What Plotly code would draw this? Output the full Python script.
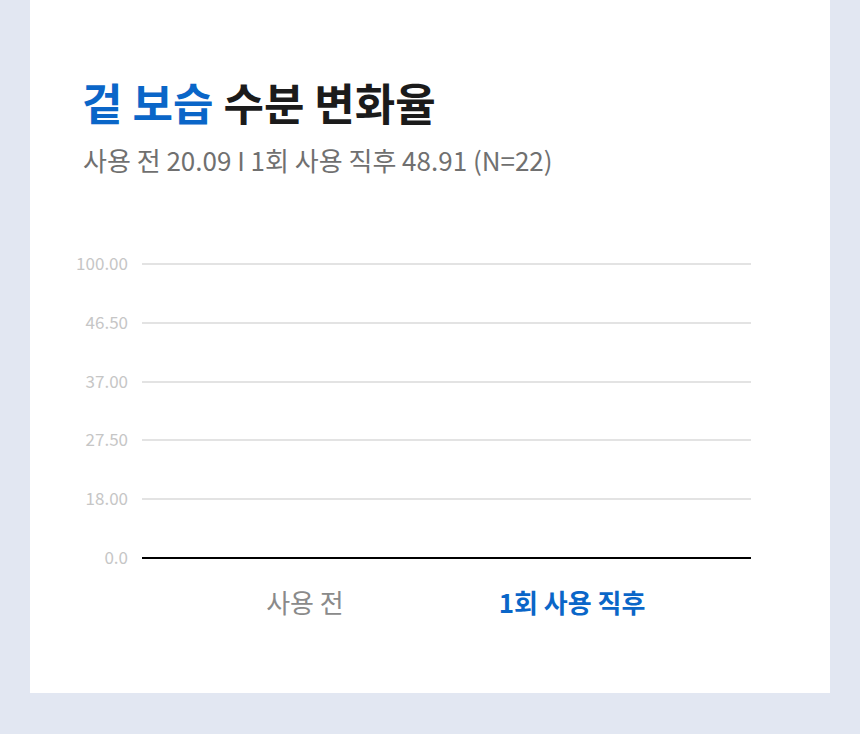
import plotly.graph_objects as go

# data
categories = ["사용 전", "1회 사용 직후"]
before_value = 20.09
after_value = 48.91
n_subjects = 22
# bars were caught at their start height in the reference (nothing drawn yet)
bar_heights = [0, 0]
tick_labels = ["0.0", "18.00", "27.50", "37.00", "46.50", "100.00"]

FONT = "Noto Sans CJK KR"
BLUE = "#0a66c8"
BG = "#e2e7f2"

# plot area in pixels (range top a bit above the last tick so its gridline shows)
W, H = 860, 734
YMAX = 5.05
L, R, B = 142, 751, 558
T = round(B - 294 * YMAX / 5)
pw, ph = R - L, B - T


def px(x):
    return (x - L) / pw


def py(y):
    return (B - y) / ph


fig = go.Figure(
    go.Bar(
        x=[0, 1],
        y=bar_heights,
        marker=dict(color=["#b9c3d3", BLUE], line=dict(width=0)),
        width=0.45,
        hoverinfo="skip",
    )
)

xlabels = [
    f"<span style='color:#8a8a8a'>{categories[0]}</span>",
    f"<b><span style='color:{BLUE}'>{categories[1]}</span></b>",
]

fig.update_xaxes(
    range=[-0.61, 1.67],
    tickvals=[0, 1],
    ticktext=xlabels,
    tickfont=dict(family=FONT, size=26),
    ticklabelstandoff=28,
    showgrid=False,
    showline=False,
    zeroline=False,
    ticks="",
    fixedrange=True,
)
fig.update_yaxes(
    range=[0, YMAX],
    tickvals=list(range(len(tick_labels))),
    ticktext=tick_labels,
    tickfont=dict(family=FONT, size=17, color="#c6c6c6"),
    ticklabelstandoff=13,
    showgrid=True,
    gridcolor="#e3e3e3",
    gridwidth=2,
    zeroline=True,
    zerolinecolor="#000000",
    zerolinewidth=2,
    showline=False,
    ticks="",
    fixedrange=True,
)

# white card behind everything
fig.add_shape(
    type="rect",
    xref="paper", yref="paper",
    x0=px(30), x1=px(830), y0=py(693), y1=py(-20),
    fillcolor="white", line=dict(width=0), layer="below",
)

fig.add_annotation(
    xref="paper", yref="paper", x=px(80), y=py(102),
    xanchor="left", yanchor="middle", showarrow=False,
    text=f"<b><span style='color:{BLUE}'>겉 보습</span> 수분 변화율</b>",
    font=dict(family=FONT, size=44, color="#1b1b1b"),
)
fig.add_annotation(
    xref="paper", yref="paper", x=px(81), y=py(159),
    xanchor="left", yanchor="middle", showarrow=False,
    text=f"사용 전 {before_value:.2f} I 1회 사용 직후 {after_value:.2f} (N={n_subjects})",
    font=dict(family=FONT, size=26, color="#707070"),
)

fig.update_layout(
    width=W,
    height=H,
    margin=dict(l=L, r=W - R, t=T, b=H - B, autoexpand=False),
    paper_bgcolor=BG,
    plot_bgcolor="rgba(0,0,0,0)",
    showlegend=False,
    bargap=0.5,
)

fig.write_html(
    "out.html",
    config={"displayModeBar": False, "staticPlot": True},
    post_script="document.body.style.margin='0';document.body.style.background='%s';" % BG,
)
